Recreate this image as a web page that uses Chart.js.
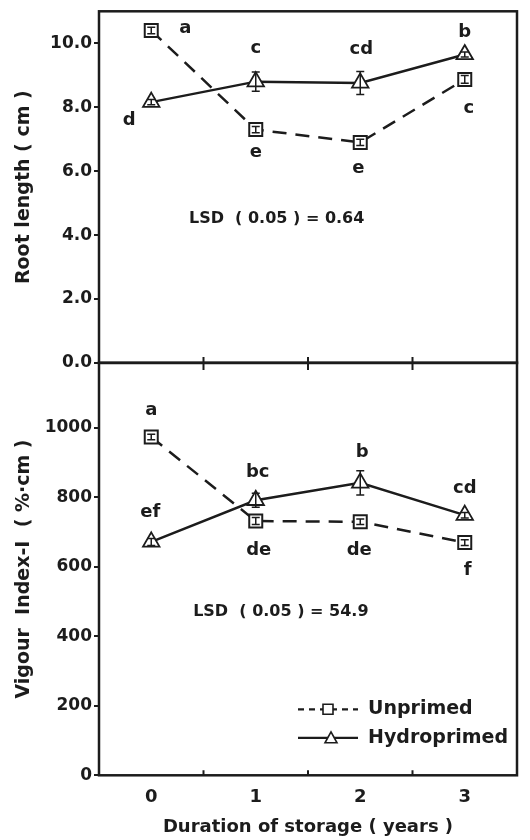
<!DOCTYPE html>
<html>
<head>
<meta charset="utf-8">
<script src="https://cdn.jsdelivr.net/npm/chart.js@4.4.1/dist/chart.umd.min.js"></script>
<style>
  html, body { margin: 0; padding: 0; background: #fff; }
  #wrap { position: relative; width: 530px; height: 840px; }
  #wrap canvas { position: absolute; left: 0; top: 0; }
</style>
</head>
<body>
<div id="wrap">
  <canvas id="rootChart" width="530" height="840"></canvas>
  <canvas id="vigourChart" width="530" height="840"></canvas>
</div>
<script>
// storage duration (years)
const years = [0, 1, 2, 3];
const xLabels = ["0", "1", "2", "3"];
const midTicks = [0.5, 1.5, 2.5];

// root length (cm)
const rootUnprimed = [10.4, 7.3, 6.9, 8.87];
const rootHydro = [8.16, 8.8, 8.76, 9.65];
const rootErrUnprimed = [0.1, 0.1, 0.1, 0.12];
const rootErrHydro = [0.08, 0.3, 0.36, 0.08];
const rootLettersUnprimed = ["a", "e", "e", "c"];
const rootLettersHydro = ["d", "c", "cd", "b"];
const rootTicks = [0, 2, 4, 6, 8, 10];

// vigour index-I
const vigourUnprimed = [974, 732, 730, 670];
const vigourHydro = [672, 792, 842, 749];
const vigourErrUnprimed = [8, 10, 8, 8];
const vigourErrHydro = [10, 20, 35, 8];
const vigourLettersUnprimed = ["a", "de", "de", "f"];
const vigourLettersHydro = ["ef", "bc", "b", "cd"];
const vigourTicks = [0, 200, 400, 600, 800, 1000];

const ink = "#1c1c1c";
const family = "'DejaVu Sans', sans-serif";
Chart.defaults.font.family = family;
Chart.defaults.font.weight = "bold";
Chart.defaults.color = ink;

function toPoints(values) {
  return years.map((x, i) => ({ x: x, y: values[i] }));
}

function unprimedSet(values, errs, letters, offsets) {
  return {
    label: "Unprimed",
    data: toPoints(values),
    errors: errs,
    letters: letters,
    letterOffsets: offsets,
    borderColor: ink,
    borderWidth: 2.5,
    borderDash: [14, 9],
    pointStyle: "rect",
    pointRadius: 9.2,
    pointBackgroundColor: "#fff",
    pointBorderColor: ink,
    pointBorderWidth: 2,
  };
}

function hydroSet(values, errs, letters, offsets) {
  return {
    label: "Hydroprimed",
    data: toPoints(values),
    errors: errs,
    letters: letters,
    letterOffsets: offsets,
    borderColor: ink,
    borderWidth: 2.5,
    pointStyle: "triangle",
    pointRadius: 9.5,
    pointBackgroundColor: "#fff",
    pointBorderColor: ink,
    pointBorderWidth: 1.8,
  };
}

// error bars, letters, LSD note, frame, mid ticks and legend
const decorations = {
  id: "decorations",
  afterDatasetsDraw(chart, args, opts) {
    const ctx = chart.ctx;
    const { left, right, top, bottom } = chart.chartArea;
    const xs = chart.scales.x;
    const ys = chart.scales.y;
    ctx.save();
    ctx.strokeStyle = ink;
    ctx.fillStyle = ink;

    ctx.lineWidth = 1.5;
    chart.data.datasets.forEach((ds) => {
      ds.data.forEach((p, i) => {
        const px = xs.getPixelForValue(p.x);
        const yHi = ys.getPixelForValue(p.y + ds.errors[i]);
        const yLo = ys.getPixelForValue(p.y - ds.errors[i]);
        ctx.beginPath();
        ctx.moveTo(px, yHi);
        ctx.lineTo(px, yLo);
        ctx.moveTo(px - 4, yHi);
        ctx.lineTo(px + 4, yHi);
        ctx.moveTo(px - 4, yLo);
        ctx.lineTo(px + 4, yLo);
        ctx.stroke();
      });
    });

    ctx.font = "bold 18px " + family;
    ctx.textAlign = "center";
    ctx.textBaseline = "middle";
    chart.data.datasets.forEach((ds) => {
      ds.data.forEach((p, i) => {
        const off = ds.letterOffsets[i];
        ctx.fillText(ds.letters[i], xs.getPixelForValue(p.x) + off[0], ys.getPixelForValue(p.y) + off[1]);
      });
    });

    ctx.font = "bold 16px " + family;
    ctx.fillText(opts.lsd.text, xs.getPixelForValue(opts.lsd.x), ys.getPixelForValue(opts.lsd.y));

    // frame
    ctx.lineWidth = 2.5;
    ctx.strokeRect(left, top, right - left, bottom - top);
    ctx.lineWidth = 2;
    ctx.beginPath();
    midTicks.forEach((v) => {
      const px = xs.getPixelForValue(v);
      ctx.moveTo(px, bottom - opts.tickUp);
      ctx.lineTo(px, bottom + opts.tickDown);
    });
    ctx.stroke();

    if (opts.legend) {
      const rows = [bottom - 66, bottom - 37.5];
      chart.data.datasets.forEach((ds, di) => {
        const y = rows[di];
        const x1 = right - 219, x2 = right - 159, mx = right - 189;
        ctx.lineWidth = 2.2;
        ctx.setLineDash(di === 0 ? [6, 5] : []);
        ctx.beginPath();
        ctx.moveTo(x1, y);
        ctx.lineTo(x2, y);
        ctx.stroke();
        ctx.setLineDash([]);
        ctx.lineWidth = 1.6;
        ctx.fillStyle = "#fff";
        ctx.beginPath();
        if (di === 0) {
          ctx.rect(mx - 5, y - 5, 10, 10);
        } else {
          ctx.moveTo(mx + 3, y - 6);
          ctx.lineTo(mx + 9, y + 5);
          ctx.lineTo(mx - 3, y + 5);
          ctx.closePath();
        }
        ctx.fill();
        ctx.stroke();
        ctx.fillStyle = ink;
        ctx.font = "bold 19px " + family;
        ctx.textAlign = "left";
        ctx.fillText(ds.label, right - 149, y);
      });
    }
    ctx.restore();
  },
};

function yAxis(title, ticks, max, fmt) {
  return {
    min: 0,
    max: max,
    afterBuildTicks: (s) => { s.ticks = ticks.map((v) => ({ value: v })); },
    afterFit: (s) => { s.width = 99; s.paddingTop = 0; s.paddingBottom = 0; },
    border: { display: false },
    grid: { drawOnChartArea: false, drawTicks: true, tickLength: 5, tickColor: ink, lineWidth: 2 },
    ticks: { padding: 2, font: { size: 17, weight: "bold" }, callback: fmt },
    title: { display: true, text: title, font: { size: 19, weight: "bold" }, padding: { top: 13, bottom: 0 } },
  };
}

new Chart(document.getElementById("rootChart"), {
  type: "line",
  data: {
    datasets: [
      unprimedSet(rootUnprimed, rootErrUnprimed, rootLettersUnprimed, [[34, -2], [0, 23], [-2, 26], [4, 29]]),
      hydroSet(rootHydro, rootErrHydro, rootLettersHydro, [[-22, 18], [0, -33], [1, -34], [0, -22]]),
    ],
  },
  options: {
    responsive: false,
    animation: false,
    devicePixelRatio: 1,
    layout: { padding: { top: 10, right: 13, left: 0, bottom: 477 } },
    scales: {
      x: { type: "linear", min: -0.5, max: 3.5, display: false },
      y: yAxis("Root length ( cm )", rootTicks, 11, (v) => v.toFixed(1)),
    },
    plugins: {
      legend: { display: false },
      tooltip: { enabled: false },
      decorations: { lsd: { text: "LSD  ( 0.05 ) = 0.64", x: 1.2, y: 4.52 }, tickUp: 6, tickDown: 7, legend: false },
    },
  },
  plugins: [decorations],
});

new Chart(document.getElementById("vigourChart"), {
  type: "line",
  data: {
    datasets: [
      unprimedSet(vigourUnprimed, vigourErrUnprimed, vigourLettersUnprimed, [[0, -27], [3, 29], [-1, 29], [3, 28]]),
      hydroSet(vigourHydro, vigourErrHydro, vigourLettersHydro, [[-1, -30], [2, -28], [2, -31], [0, -27]]),
    ],
  },
  options: {
    responsive: false,
    animation: false,
    devicePixelRatio: 1,
    layout: { padding: { top: 362.7, right: 13, left: 0, bottom: 0 } },
    scales: {
      x: {
        type: "linear",
        min: -0.5,
        max: 3.5,
        afterBuildTicks: (s) => { s.ticks = years.map((v) => ({ value: v })); },
        afterFit: (s) => { s.height = 64.7; },
        border: { display: false },
        grid: { display: false, drawTicks: false },
        ticks: { padding: 11, font: { size: 18, weight: "bold" }, callback: (v) => xLabels[years.indexOf(v)] },
        title: { display: true, text: "Duration of storage ( years )", font: { size: 18, weight: "bold" }, padding: { top: 0, bottom: 2 } },
      },
      y: yAxis("Vigour  Index-I  ( %·cm )", vigourTicks, 1188, (v) => String(v)),
    },
    plugins: {
      legend: { display: false },
      tooltip: { enabled: false },
      decorations: { lsd: { text: "LSD  ( 0.05 ) = 54.9", x: 1.24, y: 470 }, tickUp: 5, tickDown: 0, legend: true },
    },
  },
  plugins: [decorations],
});
</script>
</body>
</html>
